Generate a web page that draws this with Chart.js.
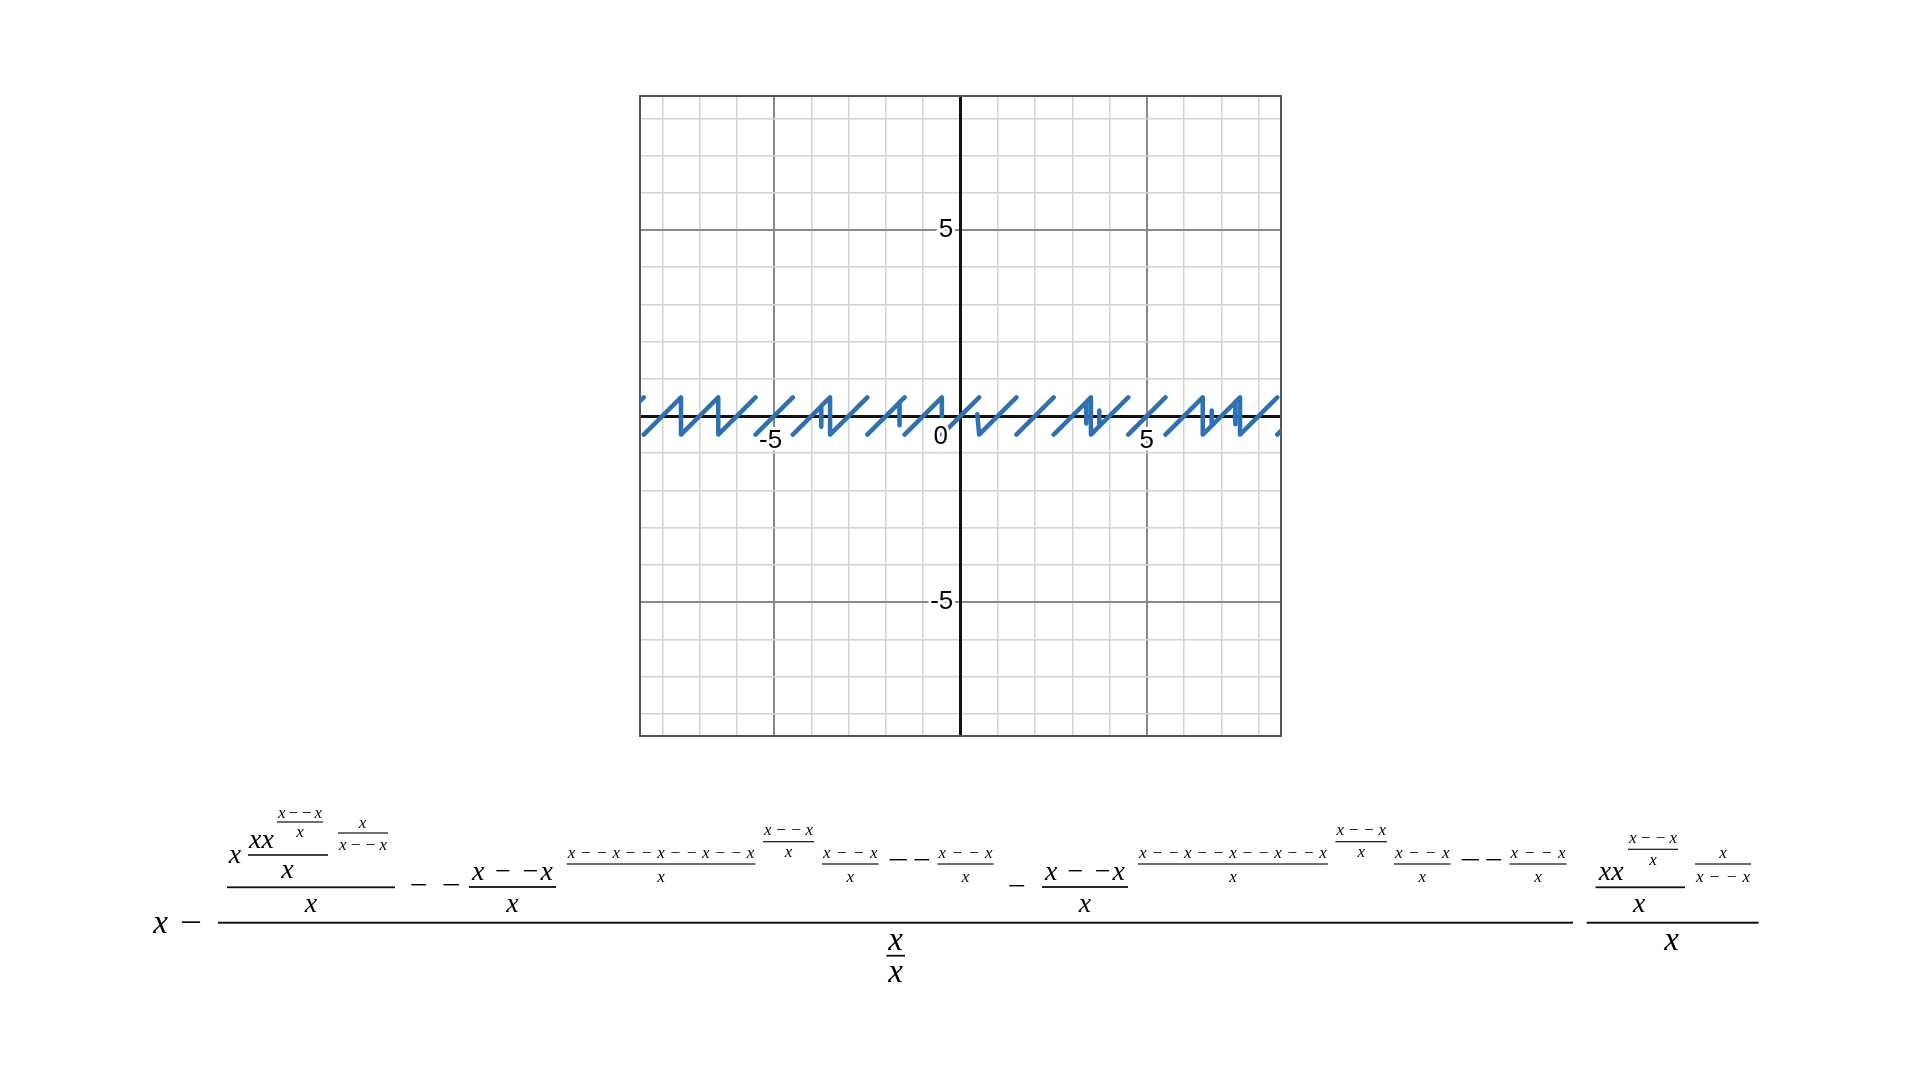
<!DOCTYPE html>
<html><head><meta charset="utf-8">
<script src="https://cdn.jsdelivr.net/npm/chart.js@4.4.1/dist/chart.umd.min.js"></script>
<style>
html,body{margin:0;padding:0;background:#fff;width:1920px;height:1080px;overflow:hidden}
#wrap{position:absolute;left:590px;top:46px;width:741px;height:740px}
#formula{position:absolute;left:0;top:0}
</style></head><body>
<div id="wrap"><canvas id="c"></canvas></div>
<svg id="formula" width="1920" height="1080" xmlns="http://www.w3.org/2000/svg"></svg>
<script>
// ---- data ----
const curveX = [
  -8.6, -8.5, -8.5,
  -8.5, -7.5, -7.5, -6.5, -6.5, -5.5, -5.5,
  -5.5, -4.5, -4.5,
  -4.5, -3.74, -3.74, -3.73, -3.5, -3.5, -2.5, -2.5,
  -2.5, -1.64, -1.64, -1.63, -1.5, -1.5,
  -1.5, -0.5, -0.5, -0.5,
  -0.5, 0.5, 0.5,
  0.45, 0.5, 1.5, 1.5,
  1.5, 2.5, 2.5,
  2.5, 3.37, 3.37, 3.38, 3.5, 3.5, 3.72, 3.72, 3.73, 4.5, 4.5,
  4.5, 5.5, 5.5,
  5.5, 6.5, 6.5, 6.74, 6.74, 6.75, 7.37, 7.37, 7.38, 7.5, 7.5, 8.5, 8.5,
  8.5, 8.6
];
const curveY = [
  0.4, 0.5, null,
  -0.5, 0.5, -0.5, 0.5, -0.5, 0.5, null,
  -0.5, 0.5, null,
  -0.5, 0.26, -0.29, 0.27, 0.5, -0.5, 0.5, null,
  -0.5, 0.36, -0.25, 0.37, 0.5, null,
  -0.5, 0.5, 0.0, null,
  -0.5, 0.5, null,
  0.05, -0.5, 0.5, null,
  -0.5, 0.5, null,
  -0.5, 0.37, -0.2, 0.38, 0.5, -0.5, -0.28, 0.15, -0.27, 0.5, null,
  -0.5, 0.5, null,
  -0.5, 0.5, -0.5, -0.26, 0.15, -0.25, 0.37, -0.22, 0.38, 0.5, -0.5, 0.5, null,
  -0.5, -0.4
];
const axisMin = -8.6, axisMax = 8.6;
const xLabelValues = [-5, 5];
const yLabelValues = [5, -5];
const originLabel = '0';

const points = curveX.map((x, i) => ({x: x, y: curveY[i]}));

const frame = {
  id: 'frame',
  beforeDatasetsDraw(chart) {
    const a = chart.chartArea, c = chart.ctx;
    c.save(); c.strokeStyle = '#555'; c.lineWidth = 2;
    c.strokeRect(a.left, a.top, a.right - a.left, a.bottom - a.top);
    c.restore();
  }
};
const gridColor = (ctx) => {
  const v = ctx.tick ? ctx.tick.value : 1;
  if (v === 0) return '#111';
  return (v % 5 === 0) ? '#888888' : '#d3d3d3';
};
const gridWidth = (ctx) => {
  const v = ctx.tick ? ctx.tick.value : 1;
  if (v === 0) return 3;
  return (v % 5 === 0) ? 2 : 1.5;
};
const tickFont = {family: "'Liberation Sans', Arial, sans-serif", size: 26};
const gap = ' ';

new Chart(document.getElementById('c'), {
  type: 'scatter',
  data: { datasets: [{
    data: points, showLine: true, spanGaps: false, pointRadius: 0, pointHoverRadius: 0,
    borderColor: '#2d70b3', borderWidth: 4.5, borderCapStyle: 'round', borderJoinStyle: 'round',
    tension: 0, clip: 0
  }]},
  options: {
    animation: false, responsive: true, maintainAspectRatio: false, devicePixelRatio: 1,
    layout: {padding: 50},
    plugins: {legend: {display: false}, tooltip: {enabled: false}},
    events: [],
    scales: {
      x: {
        type: 'linear', min: axisMin, max: axisMax, position: {y: 0},
        grid: {color: gridColor, lineWidth: gridWidth, drawTicks: false},
        border: {color: '#111', width: 3},
        ticks: {stepSize: 1, includeBounds: false, autoSkip: false, maxRotation: 0, padding: 9,
          color: '#000', font: tickFont, z: 1, textStrokeColor: '#fff', textStrokeWidth: 6,
          callback: (v) => xLabelValues.includes(v) ? (v < 0 ? String(v) + gap : String(v)) : ''}
      },
      y: {
        type: 'linear', min: axisMin, max: axisMax, position: {x: 0},
        grid: {color: gridColor, lineWidth: gridWidth, drawTicks: false},
        border: {color: '#111', width: 3},
        ticks: {stepSize: 1, includeBounds: false, autoSkip: false, padding: 9,
          color: '#000', font: Object.assign({}, tickFont, {lineHeight: '42px'}), z: 1,
          textStrokeColor: '#fff', textStrokeWidth: 6,
          callback: (v) => v === 0 ? ['', originLabel + gap + '\u2009'] : (yLabelValues.includes(v) ? String(v) + gap : '')}
      }
    }
  },
  plugins: [frame]
});

// ---- formula (text layout) ----
const svgNS = 'http://www.w3.org/2000/svg';
const svg = document.getElementById('formula');
const FONT = "'Liberation Serif', 'Times New Roman', serif";
const L = 33, M = 28, S = 17;
function el(name, attrs, text) {
  const e = document.createElementNS(svgNS, name);
  for (const k in attrs) e.setAttribute(k, attrs[k]);
  if (text !== undefined) e.textContent = text;
  svg.appendChild(e);
}
function C(s, cx, base, size) { el('text', {x: cx, y: base, 'font-size': size, 'font-family': FONT, 'font-style': 'italic', 'text-anchor': 'middle', fill: '#000'}, s); }
function T(s, x1, x2, base, size) { el('text', {x: x1, y: base, 'font-size': size, 'font-family': FONT, 'font-style': 'italic', textLength: x2 - x1, lengthAdjust: 'spacing', fill: '#000'}, s); }
function Mi(x1, x2, cy, size) { el('text', {x: x1, y: cy + 0.25 * size, 'font-size': size, 'font-family': FONT, textLength: x2 - x1, lengthAdjust: 'spacingAndGlyphs', fill: '#000'}, '\u2212'); }
function B(x1, x2, y, w) { el('rect', {x: x1, y: y - w / 2, width: x2 - x1, height: w, fill: '#111'}); }
const XM = 'x\u2212\u2212x';
const XM5 = 'x\u2212\u2212x\u2212\u2212x\u2212\u2212x\u2212\u2212x';
const XMB = 'x \u2212 \u2212x';
function smallFrac(x1, x2, numBase, denBase, barY, num) {
  B(x1, x2, barY, 1.2); T(num, x1 + 1, x2 - 1, numBase, S); C('x', (x1 + x2) / 2, denBase, S);
}
// lead
C('x', 160.5, 933, L); Mi(180, 202, 924.5, L);
// main fraction
B(218, 1573, 922.7, 2);
B(886.4, 905, 955.7, 1.8); C('x', 895.7, 950, L); C('x', 895.7, 981.7, L);
// term 1
B(227, 395, 887.3, 1.8); C('x', 311, 912, M);
C('x', 235, 863, M);
B(248, 328, 855, 1.6); C('xx', 261.5, 848, M); C('x', 287.5, 878, M);
smallFrac(277, 323, 818, 837, 822, XM);
B(338, 388, 833, 1.2); C('x', 362.5, 828, S); T(XM, 339, 387, 850, S);
Mi(410, 428, 887, M); Mi(442, 461, 887, M);
// term 2
B(469, 556, 887, 1.8); T(XMB, 472, 553, 880, M); C('x', 512.5, 912, M);
smallFrac(566.8, 755.4, 858, 881.7, 864, XM5);
smallFrac(763, 814, 835, 856.7, 841.7, XM);
smallFrac(822, 878.6, 858, 881.7, 864, XM);
Mi(888, 909, 861.7, M); Mi(913, 931, 861.7, M);
smallFrac(937.5, 993.6, 858, 881.7, 864, XM);
Mi(1008, 1026, 887.7, M);
// term 3
B(1042, 1128, 887, 1.8); T(XMB, 1045, 1125, 880, M); C('x', 1085, 912, M);
smallFrac(1138, 1327.8, 858, 881.7, 864, XM5);
smallFrac(1335.4, 1387, 835, 856.7, 841.7, XM);
smallFrac(1394, 1450.5, 858, 881.7, 864, XM);
Mi(1460, 1481, 861.7, M); Mi(1485, 1503, 861.7, M);
smallFrac(1509.5, 1566.6, 858, 881.7, 864, XM);
// second main fraction
B(1586.7, 1758.6, 922.7, 2); C('x', 1671.5, 950, L);
B(1595.6, 1685, 887.3, 1.8); C('xx', 1611.3, 880, M); C('x', 1639.3, 912, M);
smallFrac(1628, 1678, 843, 865, 849.3, XM);
B(1695, 1751, 864, 1.2); C('x', 1723, 858, S); T(XM, 1696, 1750, 881.7, S);
</script>
</body></html>
